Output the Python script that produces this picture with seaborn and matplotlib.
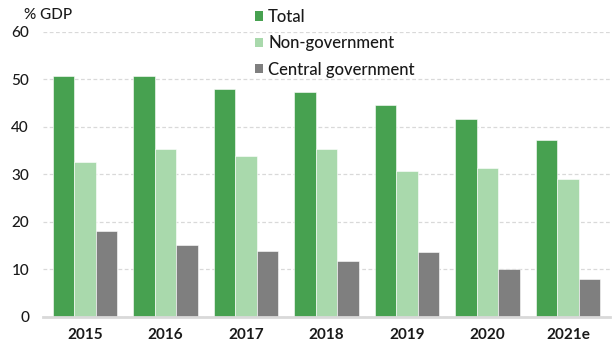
import matplotlib
matplotlib.use("Agg")
import matplotlib.pyplot as plt
import seaborn as sns
import pandas as pd
from matplotlib.patches import Patch

# Debt by sector, % of GDP
years = ["2015", "2016", "2017", "2018", "2019", "2020", "2021e"]
total = [50.7, 50.7, 47.9, 47.2, 44.6, 41.7, 37.2]
non_government = [32.5, 35.2, 33.9, 35.3, 30.7, 31.4, 29.0]
central_government = [18.0, 15.2, 13.8, 11.7, 13.7, 10.1, 7.9]

series = ["Total", "Non-government", "Central government"]
colors = ["#47a150", "#a9d9ac", "#7f7f7f"]

df = pd.DataFrame({
    "year": years * 3,
    "value": total + non_government + central_government,
    "series": [s for s in series for _ in years],
})

sns.set_theme(style="white")
plt.rcParams["font.family"] = ["Lato", "DejaVu Sans"]

fig = plt.figure(figsize=(6.16, 3.45), dpi=100)
ax = fig.add_axes([43 / 616, 1 - 316.7 / 345, (610 - 43) / 616, (316.7 - 31.7) / 345])

sns.barplot(data=df, x="year", y="value", hue="series", hue_order=series,
            palette=colors, width=0.8, saturation=1, ax=ax,
            edgecolor="#ffffff", linewidth=0.4, legend=False)

ax.set_ylim(0, 60)
ax.set_xlim(-0.52, 6.52)
ax.set_yticks(range(0, 61, 10))
ax.set_xlabel("")
ax.set_ylabel("")

# dashed horizontal gridlines behind the bars
ax.set_axisbelow(True)
ax.yaxis.grid(True, color="#d9d9d9", linestyle=(0, (3, 2)), linewidth=0.9)
ax.xaxis.grid(False)

for side in ["left", "right", "top"]:
    ax.spines[side].set_visible(False)
ax.spines["bottom"].set_color("#d9d9d9")
ax.spines["bottom"].set_linewidth(2)

ax.tick_params(axis="both", length=0)
ax.tick_params(axis="y", labelsize=11, labelcolor="#1a1a1a", pad=10)
ax.tick_params(axis="x", labelsize=11, labelcolor="#1a1a1a", pad=8)
for lbl in ax.get_yticklabels():
    lbl.set_fontweight("medium")
for lbl in ax.get_xticklabels():
    lbl.set_fontweight("bold")

fig.text(24 / 616, 1 - 15 / 345, "% GDP", fontsize=11, color="#1a1a1a",
         va="center", ha="left", fontweight="medium")

handles = [Patch(facecolor=c, edgecolor="none") for c in colors]
fig.legend(handles, series, loc="upper left",
           bbox_to_anchor=(255 / 616, 1 - 9 / 345), bbox_transform=fig.transFigure,
           frameon=False, fontsize=12, handlelength=0.48, handleheight=0.48,
           handletextpad=0.3, labelspacing=0.62, borderpad=0, borderaxespad=0,
           labelcolor="#1a1a1a", prop={"weight": "medium", "size": 12})

fig.savefig("out.png", dpi=100)
